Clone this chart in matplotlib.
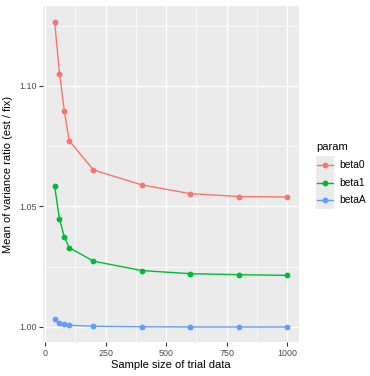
import matplotlib
matplotlib.use('Agg')
import matplotlib.pyplot as plt
from matplotlib.lines import Line2D
from matplotlib.patches import Rectangle

plt.rcParams['font.family'] = ['Liberation Sans', 'DejaVu Sans']

# data
sample_size = [40, 60, 80, 100, 200, 400, 600, 800, 1000]
beta0 = [1.1266, 1.1050, 1.0896, 1.0773, 1.0651, 1.0589, 1.0553, 1.0541, 1.0539]
beta1 = [1.0583, 1.0447, 1.0373, 1.0329, 1.0273, 1.0234, 1.0221, 1.0217, 1.0214]
betaA = [1.0033, 1.0017, 1.0011, 1.0007, 1.0003, 1.0001, 1.0000, 1.0000, 1.0000]
params = ['beta0', 'beta1', 'betaA']
colors = ['#F8766D', '#00BA38', '#619CFF']

W, H = 370, 376
fig = plt.figure(figsize=(W / 100, H / 100), dpi=100)
ax = fig.add_axes([43/W, 1 - 342/H, 256/W, 336/H])
ax.set_facecolor('#EBEBEB')

for vals, col in zip([beta0, beta1, betaA], colors):
    ax.plot(sample_size, vals, color=col, linewidth=1.0, marker='o',
            markersize=4.2, markeredgewidth=0, zorder=3)

ax.set_xlim(-8, 1048)
ax.set_ylim(0.99378, 1.1331)
ax.set_xticks([0, 250, 500, 750, 1000])
ax.set_yticks([1.00, 1.05, 1.10])
ax.set_yticklabels(['1.00', '1.05', '1.10'])
ax.set_xticks([125, 375, 625, 875], minor=True)
ax.set_yticks([1.025, 1.075, 1.125], minor=True)
ax.grid(which='major', color='white', linewidth=1.0)
ax.grid(which='minor', color='white', linewidth=0.5)
ax.set_axisbelow(True)
for s in ax.spines.values():
    s.set_visible(False)
ax.tick_params(which='major', length=2.8, width=0.8, color='#333333',
               labelsize=6.4, labelcolor='#4D4D4D', pad=2)
ax.tick_params(which='minor', length=0)

ax.set_xlabel('Sample size of trial data', fontsize=8, color='black', labelpad=2)
ax.set_ylabel('Mean of variance ratio (est / fix)', fontsize=8, color='black', labelpad=4)

# legend drawn by hand, ggplot style
fig.text(316/W, 1 - 147/H, 'param', fontsize=8, va='center', ha='left')
key_top, key_h = 156, 17.7
fig.patches.append(Rectangle((316/W, 1 - (key_top + 3*key_h)/H), 17.6/W, 3*key_h/H,
                             transform=fig.transFigure, facecolor='#EBEBEB',
                             edgecolor='none', zorder=1))
for i, (lab, col) in enumerate(zip(params, colors)):
    yc = 1 - (key_top + key_h * (i + 0.5)) / H
    fig.add_artist(Line2D([317/W, 333/W], [yc, yc], color=col, linewidth=1.0,
                          transform=fig.transFigure, zorder=2))
    fig.add_artist(Line2D([324.8/W], [yc], color=col, marker='o', markersize=4.2,
                          markeredgewidth=0, transform=fig.transFigure, zorder=3))
    fig.text(339/W, yc, lab, fontsize=7.4, va='center', ha='left')

fig.savefig('out.png', dpi=100)
